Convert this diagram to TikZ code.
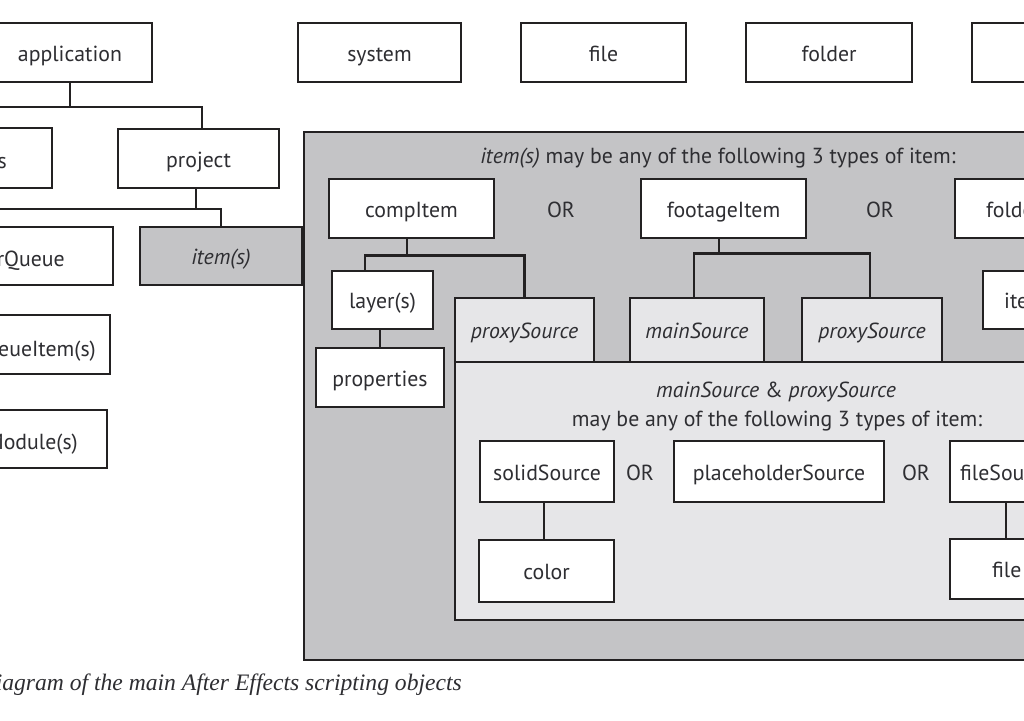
\documentclass[tikz,border=0pt]{standalone}
\usepackage{fontspec}
\setmainfont{PT Sans}
\newfontfamily\capfont{Liberation Serif}
\definecolor{linec}{HTML}{232122}
\definecolor{textc}{HTML}{2E2E32}
\definecolor{grayfill}{HTML}{C4C4C6}
\definecolor{lightfill}{HTML}{E6E6E8}
\begin{document}
\begin{tikzpicture}[x=1pt,y=-1pt,
  bx/.style={draw=linec,line width=2.7pt,fill=white,inner sep=0pt,
    text height=17.5pt,text depth=0pt,
    font=\fontsize{21.8}{24}\selectfont,text=textc},
  gbx/.style={bx,fill=grayfill,font=\fontsize{21.8}{24}\selectfont\itshape},
  lbx/.style={bx,fill=lightfill,font=\fontsize{21.8}{24}\selectfont\itshape},
  txt/.style={inner sep=0pt,text height=17.5pt,text depth=0pt,
    font=\fontsize{21.8}{24}\selectfont,text=textc},
  conn/.style={draw=linec,line width=2.7pt},
  panel/.style={draw=linec,line width=2.7pt}]
\useasboundingbox (0,0) rectangle (1024,720);
\clip (0,0) rectangle (1024,720);
\fill[white] (0,0) rectangle (1024,720);

% top row
\node[bx,minimum width=164pt,minimum height=59pt] (app) at (70,52.5) {application};
\node[bx,minimum width=163pt,minimum height=59pt] (sys) at (379.5,52.5) {system};
\node[bx,minimum width=165pt,minimum height=59pt] (fil) at (603.5,52.5) {file};
\node[bx,minimum width=166pt,minimum height=59pt] (fol) at (829,52.5) {folder};
\node[bx,minimum width=164pt,minimum height=59pt] (fifth) at (1054,52.5) {};

% left column (cut off)
\node[bx,minimum width=164pt,minimum height=60pt] (set) at (-30,158) {};
\node[txt,anchor=east] (sett) at (7,159.5) {settings};
\node[bx,minimum width=161pt,minimum height=59pt] (proj) at (198.5,158.5) {project};
\node[bx,minimum width=200pt,minimum height=58pt] (rq) at (13,256) {};
\node[txt,anchor=east] (rqt) at (65,258) {renderQueue};
\node[bx,minimum width=220pt,minimum height=59pt] (rqi) at (0,344.5) {};
\node[txt,anchor=east] (rqit) at (96,348) {renderQueueItem(s)};
\node[bx,minimum width=214pt,minimum height=58pt] (om) at (0,439) {};
\node[txt,anchor=east] (omt) at (78,441) {outputModule(s)};
\node[gbx,minimum width=162pt,minimum height=58pt] (items) at (221,256) {item(s)};

% connectors top
\draw[conn] (app.south) -- ++(0,25) coordinate (aj);
\coordinate (aleft) at (-20,107);
\draw[conn] (aleft) -| ([xshift=3.5pt]proj.north);
\draw[conn] ([xshift=-2.5pt]proj.south) -- ++(0,21) coordinate (pj);
\coordinate (pleft) at (-20,209);
\draw[conn] (pleft) -| (items.north);

% big grey panel
\draw[panel,fill=grayfill] (304,132) rectangle (1110,660);
\node[txt] (title1) at (718,154.5) {\textit{item(s)} may be any of the following 3 types of item:};

\node[bx,minimum width=165pt,minimum height=59pt] (comp) at (411.5,208.5) {compItem};
\node[txt] (or1) at (561,208.5) {OR};
\node[bx,minimum width=165pt,minimum height=59pt] (foot) at (723.5,208.5) {footageItem};
\node[txt] (or2) at (880,208.5) {OR};
\node[bx,minimum width=165pt,minimum height=59pt] (fitem) at (1037.5,208.5) {};
\node[txt,anchor=west] (fitemt) at (986,208.5) {folderItem};
\node[bx,minimum width=107pt,minimum height=58pt] (fitems) at (1036.5,300) {};
\node[txt,anchor=west] (fitemst) at (1004,300) {item(s)};

% light panel
\draw[panel,fill=lightfill] (455,362) rectangle (1110,620);

\node[bx,minimum width=101pt,minimum height=58pt] (lay) at (382.5,300) {layer(s)};
\node[bx,minimum width=128pt,minimum height=59pt] (props) at (380,377.5) {properties};
\node[lbx,minimum width=139pt,minimum height=64pt] (psl) at (524.5,330) {proxySource};
\node[lbx,minimum width=134pt,minimum height=64pt] (ms) at (697,330) {mainSource};
\node[lbx,minimum width=140pt,minimum height=64pt] (psr) at (872,330) {proxySource};

\draw[conn] ([xshift=-4.5pt]comp.south) -- ++(0,16) coordinate (cj);
\draw[conn] ([xshift=-17.5pt]lay.north) |- (cj) -| (psl.north);
\draw[conn] (props.north) -- (props.north |- lay.south);
\draw[conn] ([xshift=-4.5pt]foot.south) -- ++(0,14) coordinate (fj);
\draw[conn] ([xshift=-3pt]ms.north) |- (fj) -| ([xshift=-2pt]psr.north);

\node[txt] (title2) at (776,388.5) {\textit{mainSource} \& \textit{proxySource}};
\node[txt] (title3) at (777,418) {may be any of the following 3 types of item:};

\node[bx,minimum width=134pt,minimum height=61pt] (solid) at (547,471.5) {solidSource};
\node[txt] (or3) at (640,471.5) {OR};
\node[bx,minimum width=210pt,minimum height=61pt] (ph) at (779,471.5) {placeholderSource};
\node[txt] (or4) at (916,471.5) {OR};
\node[bx,minimum width=116pt,minimum height=61pt] (fs) at (1008,471.5) {};
\node[txt,anchor=west] (fst) at (960,471.5) {fileSource};
\node[bx,minimum width=135pt,minimum height=62pt] (col) at (546.5,571) {color};
\node[bx,minimum width=116pt,minimum height=60pt] (ff) at (1008,569) {};
\node[txt,anchor=west] (fft) at (992,569) {file};

\draw[conn] ([xshift=-3pt]solid.south) -- ([xshift=-2.5pt]col.north);
\draw[conn] ([xshift=-2pt]fs.south) -- ([xshift=-2pt]ff.north);

% caption
\node[inner sep=0pt,anchor=east,text=textc,font=\capfont\itshape\fontsize{23.6}{27}\selectfont] (cap) at (462,685) {Diagram of the main After Effects scripting objects};
\end{tikzpicture}
\end{document}
